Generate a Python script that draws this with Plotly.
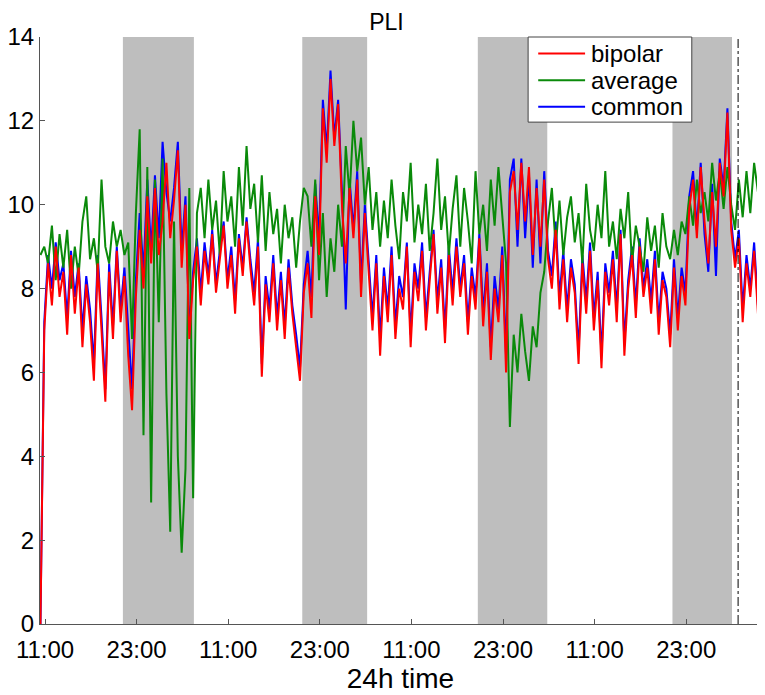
import numpy as np
import plotly.graph_objects as go

# hours after 11:00 on day 0, one sample every half hour
t0 = -0.6
step = 0.5

bipolar = [
    0.0, 7.0, 8.6, 7.6, 9.0, 7.8, 8.4, 6.9, 8.8, 7.4,
    8.5, 6.6, 8.1, 7.2, 5.8, 8.6, 7.0, 5.3, 8.4, 6.8,
    8.9, 7.2, 8.3, 6.4, 5.1, 7.8, 9.4, 8.0, 10.2, 8.6,
    10.4, 8.8, 9.6, 11.0, 9.2, 10.1, 11.3, 8.5, 10.0, 6.8,
    8.2, 9.0, 7.6, 8.9, 8.1, 9.3, 7.9, 8.7, 9.5, 8.0,
    8.8, 7.4, 9.2, 8.3, 9.6, 8.5, 7.6, 9.0, 5.9, 8.1,
    7.2, 8.6, 7.0, 8.2, 6.8, 8.5, 7.4, 6.6, 5.8, 7.9,
    8.6, 7.3, 10.2, 8.8, 12.3, 11.0, 13.0, 11.4, 12.4, 10.0,
    8.6, 10.4, 9.2, 10.6, 7.8, 9.8, 8.4, 7.0, 8.6, 6.4,
    8.3, 7.2, 8.8, 6.8, 8.0, 7.5, 9.0, 6.6, 8.4, 7.7,
    8.9, 7.0, 8.2, 9.3, 7.4, 8.5, 6.7, 8.8, 7.6, 9.0,
    7.8, 8.6, 6.9, 8.3, 7.5, 9.2, 7.1, 8.4, 6.3, 8.0,
    7.2, 8.8, 6.0, 10.3, 10.8, 9.4, 11.0, 9.6, 10.9, 8.8,
    10.4, 9.0, 10.6, 8.7, 8.0, 9.4, 7.5, 8.7, 7.2, 8.5,
    7.9, 6.2, 8.6, 7.4, 8.9, 7.0, 8.2, 6.1, 8.4, 7.6,
    8.7, 7.2, 9.3, 6.4, 8.0, 8.8, 7.3, 9.0, 7.8, 8.5,
    7.4, 8.7, 6.9, 8.2, 7.8, 6.6, 8.5, 7.0, 8.3, 7.6,
    9.9, 10.6, 9.2, 10.9, 9.6, 8.6, 10.3, 9.0, 11.0, 10.2,
    12.2, 9.4, 8.5, 9.2, 7.2, 8.6, 7.8, 8.9, 7.4,
]

average = [
    8.8, 9.0, 8.6, 9.5, 8.2, 9.3, 8.5, 9.4, 8.0, 9.0,
    8.3, 9.6, 10.2, 8.7, 9.2, 8.4, 10.6, 9.0, 8.6, 9.6,
    9.0, 9.4, 8.8, 9.1, 6.8, 9.8, 11.8, 4.5, 10.9, 2.9,
    10.6, 7.2, 11.1, 5.5, 2.2, 9.6, 4.0, 1.7, 3.7, 10.4,
    3.0, 9.8, 10.4, 9.2, 10.6, 9.4, 10.1, 8.8, 10.8, 9.6,
    10.2, 9.0, 10.9, 9.5, 11.4, 9.9, 10.5, 9.1, 10.7, 8.9,
    10.3, 9.3, 9.9, 8.6, 10.0, 9.2, 9.7, 8.5, 9.6, 10.4,
    10.2, 9.0, 10.6, 8.2, 9.8, 7.8, 9.2, 8.4, 10.0, 9.0,
    11.4, 10.2, 12.0, 10.8, 11.6, 10.0, 10.9, 9.4, 10.3, 9.0,
    10.1, 9.2, 10.6, 9.5, 8.7, 10.3, 9.6, 11.0, 9.1, 10.0,
    9.3, 10.5, 8.9, 9.8, 11.1, 9.4, 10.2, 8.8, 9.9, 10.7,
    9.0, 10.4, 9.6, 8.6, 10.8, 9.3, 10.0, 8.9, 10.6, 9.5,
    10.9, 9.8, 8.6, 4.7, 6.9, 6.0, 7.4, 6.5, 5.8, 7.1,
    6.6, 7.9, 8.4, 9.6, 10.4, 9.0, 10.1, 8.8, 9.7, 10.2,
    9.1, 9.8, 8.6, 10.5, 9.4, 8.9, 10.0, 9.2, 10.8, 9.0,
    9.6, 8.7, 9.9, 9.2, 10.3, 8.6, 9.5, 9.0, 8.4, 9.7,
    8.9, 9.5, 8.5, 9.8, 9.0, 8.7, 9.4, 8.8, 9.6, 9.3,
    10.2, 9.5, 10.6, 9.8, 10.3, 9.6, 11.0, 10.1, 10.8, 9.9,
    10.9, 10.0, 9.4, 10.6, 9.7, 10.8, 9.8, 11.0, 10.3,
]

common = [
    0.0, 7.2, 8.8, 8.0, 9.1, 8.2, 8.6, 7.3, 8.9, 7.8,
    8.6, 7.0, 8.3, 7.5, 6.2, 8.8, 7.3, 5.6, 8.6, 7.1,
    9.0, 7.5, 8.5, 6.9, 5.6, 8.2, 9.8, 8.4, 10.6, 8.9,
    10.7, 9.2, 11.5, 10.3, 9.6, 10.4, 11.5, 8.9, 10.2, 7.0,
    8.4, 9.2, 7.9, 9.1, 8.3, 9.4, 8.1, 8.9, 9.6, 8.2,
    9.0, 7.7, 9.3, 8.5, 9.7, 8.7, 7.9, 9.2, 6.2, 8.3,
    7.5, 8.8, 7.3, 8.4, 7.1, 8.7, 7.6, 6.9, 6.1, 8.1,
    8.9, 7.8, 10.5, 9.2, 12.5, 11.3, 13.2, 11.6, 12.5, 10.3,
    7.5, 10.6, 9.4, 10.8, 8.1, 10.0, 8.6, 7.3, 8.8, 6.8,
    8.5, 7.5, 9.0, 7.1, 8.3, 7.8, 9.1, 6.9, 8.6, 8.0,
    9.1, 7.3, 8.4, 9.4, 7.7, 8.7, 7.0, 9.0, 7.9, 9.2,
    8.0, 8.8, 7.2, 8.5, 7.8, 9.3, 7.4, 8.6, 6.6, 8.3,
    7.5, 9.0, 6.4, 10.6, 11.1, 9.0, 11.1, 9.2, 10.7, 8.5,
    10.6, 8.6, 10.8, 8.9, 8.3, 9.6, 7.8, 8.9, 7.5, 8.7,
    8.1, 6.5, 8.8, 7.7, 9.1, 7.3, 8.4, 6.4, 8.6, 7.9,
    8.9, 7.5, 9.4, 6.7, 8.2, 9.0, 7.6, 9.2, 8.0, 8.7,
    7.7, 8.9, 7.2, 8.4, 8.0, 6.9, 8.7, 7.3, 8.5, 7.9,
    10.2, 10.8, 9.4, 11.0, 9.3, 8.4, 10.5, 8.3, 11.1, 10.4,
    12.3, 9.6, 8.7, 9.4, 7.5, 8.8, 8.0, 9.1, 7.6,
]

# night periods (grey) and end-of-recording marker, in hours after 11:00 day 0
night_start = [10.2, 33.7, 56.7, 82.2]
night_end = [19.5, 42.2, 65.8, 90.0]
marker_time = 90.8

tick_hours = [0, 12, 24, 36, 48, 60, 72, 84]
tick_labels = ["11:00", "23:00"] * 4

names = ["bipolar", "average", "common"]
colors = ["#ff0000", "#0a8a0a", "#0000ff"]

hours = t0 + step * np.arange(len(bipolar))

fig = go.Figure()
# common drawn first, bipolar last so the red sits on top
for name, vals, col in [("common", common, colors[2]),
                        ("average", average, colors[1]),
                        ("bipolar", bipolar, colors[0])]:
    fig.add_trace(go.Scatter(x=hours, y=vals, mode="lines", name=name,
                             line=dict(color=col, width=2), showlegend=False))

for s, e in zip(night_start, night_end):
    fig.add_shape(type="rect", xref="x", yref="paper", x0=s, x1=e, y0=0, y1=1,
                  fillcolor="#bebebe", line_width=0, layer="below")

fig.add_shape(type="line", xref="x", yref="paper", x0=marker_time, x1=marker_time,
              y0=0, y1=1, line=dict(color="black", width=1, dash="dashdot"))

# legend box, drawn by hand (matlab style)
fig.add_shape(type="rect", xref="paper", yref="paper", x0=0.677, x1=0.904,
              y0=0.855, y1=1.0, fillcolor="white",
              line=dict(color="#444444", width=1))
for k, (name, col) in enumerate(zip(names, colors)):
    ly = 0.972 - k * 0.0455
    fig.add_shape(type="line", xref="paper", yref="paper", x0=0.691, x1=0.756,
                  y0=ly, y1=ly, line=dict(color=col, width=2))
    fig.add_annotation(x=0.762, y=ly, xref="paper", yref="paper", text=name,
                       showarrow=False, xanchor="left", yanchor="middle",
                       font=dict(size=24))

fig.update_layout(
    width=757, height=687,
    margin=dict(l=32, r=4, t=29, b=71),
    paper_bgcolor="white", plot_bgcolor="white",
    font=dict(family="Liberation Sans, Arial, sans-serif", size=24, color="black"),
    title=dict(text="PLI", x=0.5, xanchor="center", y=0.9796, yanchor="middle",
               font=dict(size=23)),
)
fig.update_xaxes(
    range=[-0.66, 93.8], tickvals=tick_hours, ticktext=tick_labels,
    showline=True, linecolor="#555555", linewidth=1,
    ticks="inside", ticklen=5, tickcolor="#555555",
    tickfont=dict(size=24), ticklabelstandoff=4, automargin=False,
    showgrid=False, zeroline=False,
    title=dict(text="24h time", font=dict(size=28), standoff=0),
)
fig.update_yaxes(
    range=[0, 14], tickvals=list(range(0, 15, 2)),
    showline=True, linecolor="#555555", linewidth=1,
    ticks="inside", ticklen=5, tickcolor="#555555",
    tickfont=dict(size=24), ticklabelstandoff=0, automargin=False,
    showgrid=False, zeroline=False,
)

fig.write_html("out.html")
